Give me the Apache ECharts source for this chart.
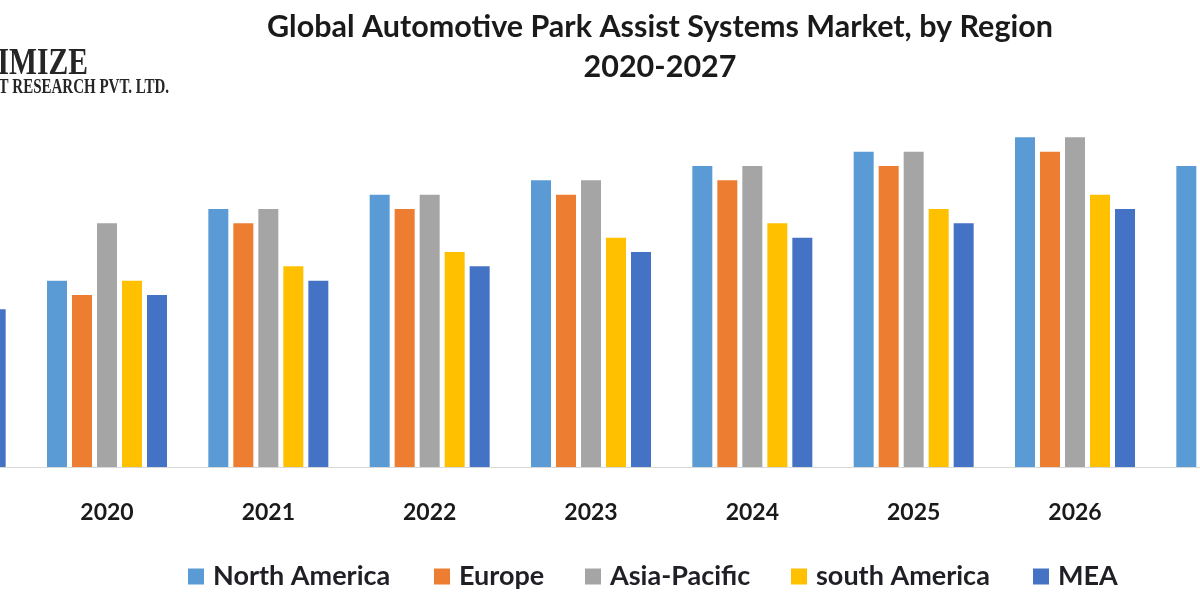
<!DOCTYPE html>
<html>
<head>
<meta charset="utf-8">
<script src="https://cdn.jsdelivr.net/npm/echarts@6/dist/echarts.min.js"></script>
<style>html,body{margin:0;padding:0;background:#fff;}#c{width:1200px;height:600px;}</style>
</head>
<body>
<div id="c"></div>
<script>
// Data (unitless bar heights; 2019 and 2027 are cut off by the crop)
const categories = ['2019', '2020', '2021', '2022', '2023', '2024', '2025', '2026', '2027'];
const northAmerica = [null, 13, 18, 19, 20, 21, 22, 23, 21];
const europe       = [null, 12, 17, 18, 19, 20, 21, 22, null];
const asiaPacific  = [null, 17, 18, 19, 20, 21, 22, 23, null];
const southAmerica = [null, 13, 14, 15, 16, 17, 18, 19, null];
const mea          = [11,   12, 13, 14, 15, 16, 17, 18, null];
const seriesNames = ['North America', 'Europe', 'Asia-Pacific', 'south America', 'MEA'];
const seriesColors = ['#5B9BD5', '#ED7D31', '#A5A5A5', '#FFC000', '#4472C4'];
const seriesData = [northAmerica, europe, asiaPacific, southAmerica, mea];
const titleLine1 = 'Global Automotive Park Assist Systems Market, by Region';
const titleLine2 = '2020-2027';

const chart = echarts.init(document.getElementById('c'));
const legendLefts = [188, 434, 585, 791, 1033];
const legends = seriesNames.map((n, i) => ({
  data: [n], left: legendLefts[i], top: 563, icon: 'rect', itemWidth: 16, itemHeight: 16,
  itemGap: 0, padding: 0,
  textStyle: { fontFamily: 'Lato', fontWeight: 'bold', fontSize: 27, color: '#1f1f26', padding: [0, 0, 0, 4] }
}));
chart.setOption({
  animation: false,
  backgroundColor: '#ffffff',
  title: [
    { text: titleLine1, left: 655, top: 7, textAlign: 'center',
      textStyle: { fontFamily: 'Lato', fontWeight: 'bold', fontSize: 30.5, color: '#1a1a1a' } },
    { text: titleLine2, left: 655, top: 47, textAlign: 'center',
      textStyle: { fontFamily: 'Lato', fontWeight: 'bold', fontSize: 30.5, color: '#1a1a1a' } }
  ],
  legend: legends,
  graphic: [
    { type: 'text', x: 88, y: 64, scaleX: 0.8, silent: true,
      style: { text: 'MAXIMIZE', textAlign: 'right', textVerticalAlign: 'middle',
        font: 'bold 37px "Liberation Serif"', fill: '#262626' } },
    { type: 'text', x: 169, y: 88, scaleX: 0.75, silent: true,
      style: { text: 'MARKET RESEARCH PVT. LTD.', textAlign: 'right', textVerticalAlign: 'middle',
        font: 'bold 20px "Liberation Serif"', fill: '#262626' } }
  ],
  grid: { left: -135, right: -117, top: 123, bottom: 133, outerBoundsMode: 'none', containLabel: false },
  xAxis: {
    type: 'category', data: categories,
    axisLine: { lineStyle: { color: '#d9d9d9', width: 1 } },
    axisTick: { show: false },
    axisLabel: { margin: 34, fontFamily: 'Lato', fontWeight: 'bold', fontSize: 23, color: '#1a1a1a' },
    splitLine: { show: false }
  },
  yAxis: { type: 'value', min: 0, max: 24, show: false, splitLine: { show: false } },
  series: seriesNames.map((n, i) => ({
    name: n, type: 'bar', data: seriesData[i], barWidth: 20, barGap: '25%',
    itemStyle: { color: seriesColors[i] }
  }))
});
</script>
</body>
</html>
